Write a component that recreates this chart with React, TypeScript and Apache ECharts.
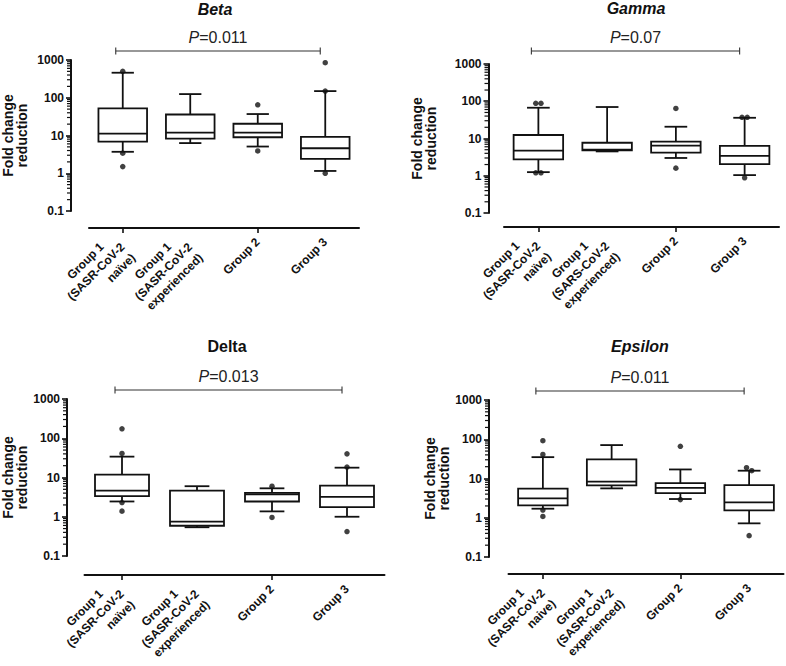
import React, { useEffect, useRef } from 'react';
import * as echarts from 'echarts';

// ---------------- DATA ----------------
const panelTitles = ['Beta', 'Gamma', 'Delta', 'Epsilon'];
const titleItalic = [true, true, false, true];
const pValues = ['0.011', '0.07', '0.013', '0.011'];
const bracketGroups = [0, 3];

const categoriesBeta = ['Group 1\n(SASR-CoV-2\nnaïve)', 'Group 1\n(SASR-CoV-2\nexperienced)', 'Group 2', 'Group 3'];
const categoriesGamma = ['Group 1\n(SASR-CoV-2\nnaïve)', 'Group 1\n(SARS-CoV-2\nexperienced)', 'Group 2', 'Group 3'];
const categoriesDelta = ['Group 1\n(SASR-CoV-2\nnaïve)', 'Group 1\n(SASR-CoV-2\nexperienced)', 'Group 2', 'Group 3'];
const categoriesEpsilon = ['Group 1\n(SASR-CoV-2\nnaive)', 'Group 1\n(SASR-CoV-2\nexperienced)', 'Group 2', 'Group 3'];

const yTickValues = [0.1, 1, 10, 100, 1000];
const minorTickMultipliers = [2, 3, 4, 5, 6, 7, 8, 9];
const yAxisName = 'Fold change\nreduction';

// box stats per group: [low whisker, Q1, median, Q3, high whisker]
const boxBeta = [
  [3.7, 6.9, 11.2, 52, 460],
  [6.3, 8.3, 11.9, 36, 125],
  [5.1, 9.0, 11.9, 20.5, 37],
  [1.15, 2.4, 4.6, 9.2, 150],
];
const outliersBeta = [[0, 500], [0, 3.4], [0, 1.5], [2, 65], [2, 3.9], [3, 850], [3, 150], [3, 1.0]];

const boxGamma = [
  [1.25, 2.75, 4.7, 12.4, 67],
  [4.5, 4.8, 5.0, 7.7, 70],
  [3.0, 4.2, 6.4, 8.2, 20.7],
  [1.04, 2.06, 3.4, 6.3, 36],
];
const outliersGamma = [[0, 88], [0, 88], [0, 1.2], [0, 1.2], [2, 64], [2, 1.6], [3, 37], [3, 37], [3, 0.88]];

const boxDelta = [
  [2.45, 3.35, 4.65, 11.9, 34],
  [0.54, 0.59, 0.75, 4.65, 6.0],
  [1.37, 2.45, 3.7, 4.06, 5.3],
  [1.0, 1.76, 3.2, 6.2, 17.8],
];
const outliersDelta = [[0, 174], [0, 41], [0, 2.3], [0, 1.39], [2, 6.0], [2, 0.96], [3, 40], [3, 18.5], [3, 0.42]];

const boxEpsilon = [
  [1.7, 2.06, 3.1, 5.5, 35],
  [5.6, 6.7, 8.3, 30.7, 71],
  [3.0, 4.25, 5.8, 7.65, 17],
  [0.72, 1.54, 2.46, 6.8, 15.8],
];
const outliersEpsilon = [[0, 92], [0, 41], [0, 1.57], [0, 1.08], [2, 66], [2, 2.9], [3, 18.8], [3, 15.8], [3, 0.35]];

// ---------------- LAYOUT ----------------
const FONT = '"Liberation Sans", Arial, Helvetica, sans-serif';
const INK = '#111';
const panels = [
  { cats: categoriesBeta, box: boxBeta, out: outliersBeta, grid: { left: 87, top: 60, width: 272, height: 151 }, yOff: 18, xOff: 17, nameGap: 42, title: [215, 9] },
  { cats: categoriesGamma, box: boxGamma, out: outliersGamma, grid: { left: 504, top: 64, width: 275, height: 149 }, yOff: 15.5, xOff: 14, nameGap: 51, title: [636, 8.5] },
  { cats: categoriesDelta, box: boxDelta, out: outliersDelta, grid: { left: 84.5, top: 399, width: 300, height: 157 }, yOff: 17.5, xOff: 19, nameGap: 35, title: [227, 346.5] },
  { cats: categoriesEpsilon, box: boxEpsilon, out: outliersEpsilon, grid: { left: 508.5, top: 400, width: 275, height: 157 }, yOff: 19.5, xOff: 17, nameGap: 38, title: [640, 346] },
];
const BOX_FRAC = 0.72;
const CAP_FRAC = 0.33;
const LINE_W = 1.8;

let measureCtx: CanvasRenderingContext2D | null = null;
function textWidth(t: string) {
  if (!measureCtx) measureCtx = document.createElement('canvas').getContext('2d');
  if (!measureCtx) return t.length * 6.5;
  measureCtx.font = 'bold 12px "Liberation Sans"';
  return measureCtx.measureText(t).width;
}

function fmtTick(v: number) {
  if (v >= 1) return String(Math.round(v));
  return String(+v.toPrecision(1));
}

const minorTickValues: number[] = [];
yTickValues.slice(0, -1).forEach((base) => {
  minorTickMultipliers.forEach((m) => minorTickValues.push(+(base * m).toPrecision(3)));
});

function buildOption() {
  const grid: any[] = [];
  const xAxis: any[] = [];
  const yAxis: any[] = [];
  const series: any[] = [];
  const graphic: any[] = [];

  panels.forEach((p, i) => {
    grid.push({ ...p.grid, containLabel: false });
    xAxis.push({
      type: 'category', gridIndex: i, data: p.cats, boundaryGap: true, offset: p.xOff,
      axisLine: { show: true, lineStyle: { color: INK, width: 2 } },
      axisTick: { show: true, alignWithLabel: true, length: 5, lineStyle: { color: INK, width: 1.6 } },
      axisLabel: { show: false },
      splitLine: { show: false },
    });
    yAxis.push({
      type: 'log', logBase: 10, gridIndex: i, min: yTickValues[0], max: yTickValues[yTickValues.length - 1],
      offset: p.yOff,
      axisLine: { show: true, lineStyle: { color: INK, width: 2 } },
      axisTick: { show: true, length: 5, lineStyle: { color: INK, width: 1.6 } },
      minorTick: { show: false },
      axisLabel: { formatter: fmtTick, fontFamily: FONT, fontWeight: 'bold', fontSize: 12, color: INK, margin: 7 },
      splitLine: { show: false },
      minorSplitLine: { show: false },
      name: yAxisName, nameLocation: 'middle', nameRotate: 90, nameGap: p.nameGap,
      nameTextStyle: { fontFamily: FONT, fontWeight: 'bold', fontSize: 14, color: INK, lineHeight: 14 },
    });

    // log minor ticks on the y axis
    series.push({
      type: 'custom', xAxisIndex: i, yAxisIndex: i, z: 5, silent: true, clip: false,
      data: minorTickValues.map((v) => [0, v]),
      encode: { x: 0, y: 1 },
      renderItem: (params: any, api: any) => {
        const v = api.value(1);
        const a = api.coord([0, v]);
        const b = api.coord([1, v]);
        const ax = a[0] - (b[0] - a[0]) / 2 - p.yOff;
        return {
          type: 'line',
          shape: { x1: ax - 4, y1: a[1], x2: ax, y2: a[1] },
          style: { stroke: INK, lineWidth: 1.2 },
        };
      },
    });

    // boxes
    series.push({
      type: 'custom', xAxisIndex: i, yAxisIndex: i, z: 2,
      data: p.box.map((b, k) => [k, ...b]),
      encode: { x: 0, y: [1, 2, 3, 4, 5] },
      renderItem: (params: any, api: any) => {
        const k = api.value(0);
        const lo = api.coord([k, api.value(1)]);
        const q1 = api.coord([k, api.value(2)]);
        const md = api.coord([k, api.value(3)]);
        const q3 = api.coord([k, api.value(4)]);
        const hi = api.coord([k, api.value(5)]);
        const band = api.coord([1, 1])[0] - api.coord([0, 1])[0];
        const bw = band * BOX_FRAC;
        const cw = band * CAP_FRAC;
        const cx = md[0];
        const st = { stroke: INK, lineWidth: LINE_W, fill: null };
        return {
          type: 'group',
          children: [
            { type: 'line', shape: { x1: cx, y1: hi[1], x2: cx, y2: q3[1] }, style: st },
            { type: 'line', shape: { x1: cx - cw / 2, y1: hi[1], x2: cx + cw / 2, y2: hi[1] }, style: st },
            { type: 'line', shape: { x1: cx, y1: q1[1], x2: cx, y2: lo[1] }, style: st },
            { type: 'line', shape: { x1: cx - cw / 2, y1: lo[1], x2: cx + cw / 2, y2: lo[1] }, style: st },
            { type: 'rect', shape: { x: cx - bw / 2, y: q3[1], width: bw, height: q1[1] - q3[1] }, style: { stroke: INK, lineWidth: LINE_W, fill: '#fff' } },
            { type: 'line', shape: { x1: cx - bw / 2, y1: md[1], x2: cx + bw / 2, y2: md[1] }, style: st },
          ],
        };
      },
    });

    // outliers (close pairs spread side by side)
    const outData = p.out.map((o, j) => {
      const near = (q: number[]) => q[0] === o[0] && Math.abs(Math.log10(q[1]) - Math.log10(o[1])) < 0.1;
      let dx = 0;
      if (p.out.filter(near).length > 1) {
        const rank = p.out.filter((q, m) => m < j && near(q)).length;
        dx = rank === 0 ? -2.6 : 2.6;
      }
      return { value: o, symbolOffset: [dx, 0] };
    });
    series.push({
      type: 'scatter', xAxisIndex: i, yAxisIndex: i, z: 3, symbol: 'circle', symbolSize: 5.5,
      itemStyle: { color: INK }, data: outData, silent: true,
    });

    // bracket + P value
    series.push({
      type: 'custom', xAxisIndex: i, yAxisIndex: i, z: 4, silent: true, clip: false,
      data: [[bracketGroups[0], yTickValues[yTickValues.length - 1], bracketGroups[1]]],
      encode: { x: 0, y: 1 },
      renderItem: (params: any, api: any) => {
        const a = api.coord([api.value(0), api.value(1)]);
        const b = api.coord([api.value(2), api.value(1)]);
        const y = a[1] - (i === 1 ? 13 : 9);
        const x1 = a[0] - 7, x2 = b[0] - 5;
        const st = { stroke: '#333', lineWidth: 1.1 };
        return {
          type: 'group',
          children: [
            { type: 'line', shape: { x1, y1: y, x2, y2: y }, style: st },
            { type: 'line', shape: { x1, y1: y - 3.5, x2: x1, y2: y + 3.5 }, style: st },
            { type: 'line', shape: { x1: x2, y1: y - 3.5, x2, y2: y + 3.5 }, style: st },
            {
              type: 'text', x: (x1 + x2) / 2, y: y - 14,
              style: {
                text: '{i|P}=' + pValues[i], align: 'center', verticalAlign: 'middle',
                fontFamily: FONT, fontSize: 16, fill: '#222',
                rich: { i: { fontStyle: 'italic', fontFamily: FONT, fontSize: 16, fill: '#222' } },
              },
            },
          ],
        };
      },
    });

    // rotated category labels
    series.push({
      type: 'custom', xAxisIndex: i, yAxisIndex: i, z: 4, silent: true, clip: false,
      data: p.cats.map((_, k) => [k, yTickValues[0]]),
      encode: { x: 0, y: 1 },
      renderItem: (params: any, api: any) => {
        const k = api.value(0);
        const pt = api.coord([k, api.value(1)]);
        const lines = p.cats[k].split('\n');
        const n = lines.length;
        const W = Math.max(...lines.map(textWidth));
        const ax = pt[0];
        const ay = pt[1] + p.xOff + (n === 1 ? 12 : 17);
        const children = lines.map((ln, li) => {
          const centered = n > 1 && li === 0;
          return {
            type: 'text', x: centered ? -W / 2 : 0, y: (li - (n - 1) / 2) * 15,
            style: {
              text: ln, align: centered ? 'center' : 'right', verticalAlign: 'middle',
              fontFamily: FONT, fontWeight: 'bold', fontSize: 12, fill: INK,
            },
          };
        });
        return { type: 'group', x: ax, y: ay, rotation: Math.PI / 4, children };
      },
    });

    graphic.push({
      type: 'text', x: p.title[0], y: p.title[1],
      style: {
        text: panelTitles[i], align: 'center', verticalAlign: 'middle',
        fontFamily: FONT, fontWeight: 'bold', fontStyle: titleItalic[i] ? 'italic' : 'normal', fontSize: 16, fill: INK,
      },
    });
  });

  return { animation: false, backgroundColor: '#fff', grid, xAxis, yAxis, series, graphic };
}

export default function App() {
  const ref = useRef<HTMLDivElement>(null);
  useEffect(() => {
    if (!ref.current) return;
    const chart = echarts.init(ref.current, undefined, { renderer: 'svg' });
    chart.setOption(buildOption());
    return () => chart.dispose();
  }, []);
  return <div ref={ref} style={{ position: 'absolute', left: 0, top: 0, width: 786, height: 666, background: '#fff' }} />;
}
